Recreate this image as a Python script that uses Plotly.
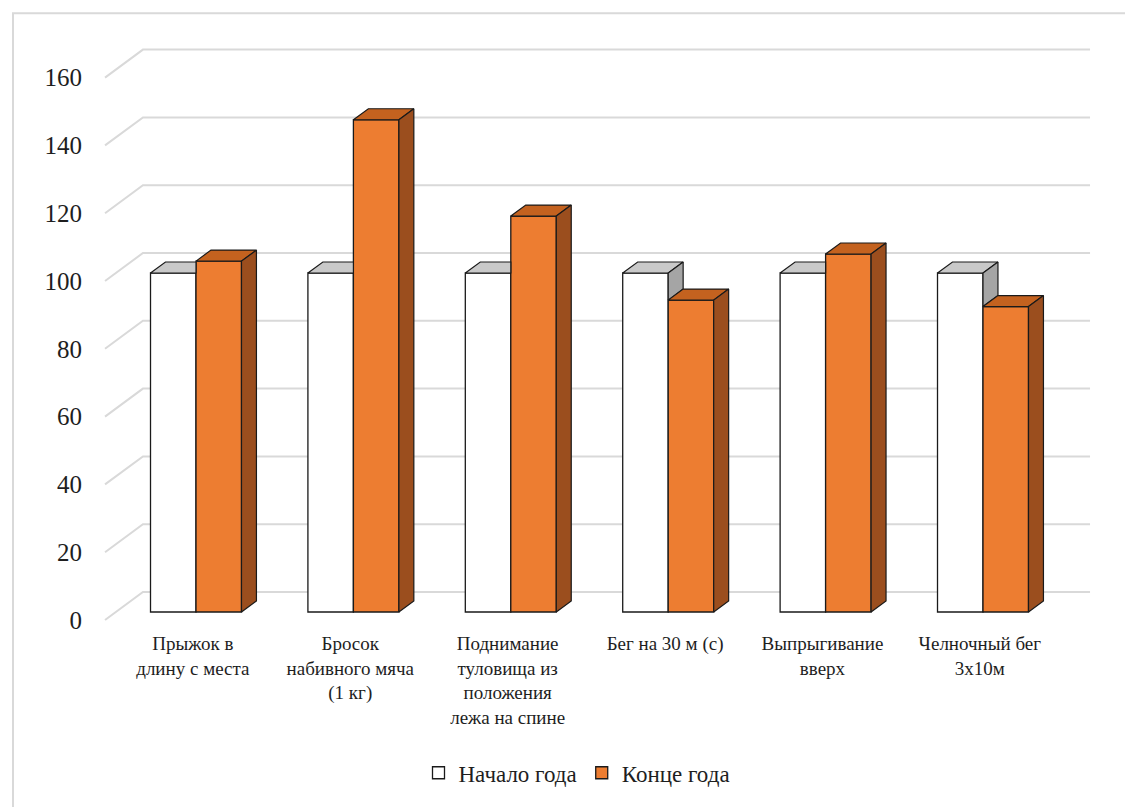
import plotly.graph_objects as go

# ---- data ----
categories = [
    "Прыжок в<br>длину с места",
    "Бросок<br>набивного мяча<br>(1 кг)",
    "Поднимание<br>туловища из<br>положения<br>лежа на спине",
    "Бег на 30 м (с)",
    "Выпрыгивание<br>вверх",
    "Челночный бег<br>3х10м",
]
series_names = ["Начало года", "Конце года"]
start_values = [100, 100, 100, 100, 100, 100]
end_values = [103.5, 145.2, 116.8, 92.0, 105.6, 90.1]
y_ticks = [0, 20, 40, 60, 80, 100, 120, 140, 160]

# ---- style / geometry parameters ----
FONT = "'Liberation Serif', 'Times New Roman', 'DejaVu Serif', serif"
WHITE_FRONT, WHITE_TOP, WHITE_SIDE = "#ffffff", "#c9c9c9", "#a5a5a5"
ORANGE_FRONT, ORANGE_TOP, ORANGE_SIDE = "#ED7D31", "#C4621F", "#9B4E1E"
EDGE = "#1a1a1a"
GRID = "#d9d9d9"
TXT = "#1e1e1e"

BAR_W = 0.289          # width of each bar (category units)
DDX, DDY = 0.095, 3.25  # bar depth offset (x units, value units)
WALL_FRONT_DX, WALL_FRONT_DY = -0.578, -2.36   # front plane of side wall
WALL_BACK_X0, WALL_BACK_X1, WALL_BACK_DY = -0.337, 5.68, 5.9

xpos = list(range(len(categories)))

fig = go.Figure()

# front faces
fig.add_trace(go.Bar(
    x=[i - BAR_W / 2 for i in xpos], y=start_values, width=BAR_W, name=series_names[0],
    marker=dict(color=WHITE_FRONT, line=dict(color=EDGE, width=1.3)), hoverinfo="skip"))
fig.add_trace(go.Bar(
    x=[i + BAR_W / 2 for i in xpos], y=end_values, width=BAR_W, name=series_names[1],
    marker=dict(color=ORANGE_FRONT, line=dict(color=EDGE, width=1.3)), hoverinfo="skip"))


def poly_trace(polys, color):
    xs, ys = [], []
    for p in polys:
        for (a, b) in p + [p[0]]:
            xs.append(a)
            ys.append(b)
        xs.append(None)
        ys.append(None)
    return go.Scatter(x=xs, y=ys, mode="lines", fill="toself", fillcolor=color,
                      line=dict(color=EDGE, width=1.2), showlegend=False, hoverinfo="skip")


w_top, w_side, o_top, o_side = [], [], [], []
for i, vw, vo in zip(xpos, start_values, end_values):
    x0w, x1w = i - BAR_W, i
    x0o, x1o = i, i + BAR_W
    if vo - vw >= DDY:
        w_top.append([(x0w, vw), (x1w, vw), (x1w, vw + DDY), (x0w + DDX, vw + DDY)])
    elif vo > vw:
        c = vo - vw
        w_top.append([(x0w, vw), (x1w, vw), (x1w, vw + c), (x1w + DDX * c / DDY, vw + c),
                      (x1w + DDX, vw + DDY), (x0w + DDX, vw + DDY)])
    else:
        w_top.append([(x0w, vw), (x1w, vw), (x1w + DDX, vw + DDY), (x0w + DDX, vw + DDY)])
        w_side.append([(x1w, vo), (x1w, vw), (x1w + DDX, vw + DDY), (x1w + DDX, vo + DDY)])
    o_top.append([(x0o, vo), (x1o, vo), (x1o + DDX, vo + DDY), (x0o + DDX, vo + DDY)])
    o_side.append([(x1o, 0), (x1o, vo), (x1o + DDX, vo + DDY), (x1o + DDX, DDY)])

fig.add_trace(poly_trace(w_top, WHITE_TOP))
if w_side:
    fig.add_trace(poly_trace(w_side, WHITE_SIDE))
fig.add_trace(poly_trace(o_top, ORANGE_TOP))
fig.add_trace(poly_trace(o_side, ORANGE_SIDE))

# back-wall gridlines (with side-wall diagonals)
shapes = []
for t in y_ticks:
    shapes.append(dict(
        type="path", xref="x", yref="y", layer="below",
        path=f"M {WALL_FRONT_DX},{t + WALL_FRONT_DY} L {WALL_BACK_X0},{t + WALL_BACK_DY} "
             f"L {WALL_BACK_X1},{t + WALL_BACK_DY}",
        line=dict(color=GRID, width=2)))
# chart border
shapes.append(dict(type="rect", xref="paper", yref="paper", x0=-0.087, x1=1.04,
                   y0=-0.32, y1=1.028, line=dict(color=GRID, width=2), layer="below"))

fig.update_layout(
    width=1125, height=807,
    margin=dict(l=100, r=25, t=30, b=177),
    paper_bgcolor="white", plot_bgcolor="white",
    barmode="overlay",
    font=dict(family=FONT, color=TXT),
    shapes=shapes,
    showlegend=True,
    legend=dict(orientation="h", x=0.477, xanchor="center", y=-0.238, yanchor="middle",
                font=dict(family=FONT, size=23, color=TXT), traceorder="normal",
                itemwidth=30),
    xaxis=dict(range=[-0.6099, 5.7433], showgrid=False, zeroline=False, showline=False,
               tickmode="array", tickvals=[i - 0.02 for i in xpos], ticktext=categories,
               tickfont=dict(family=FONT, size=19, color=TXT), ticks=""),
    yaxis=dict(range=[-5.31, 171.68], showgrid=False, zeroline=False, showline=False,
               tickmode="array", tickvals=[t + WALL_FRONT_DY for t in y_ticks],
               ticktext=[str(t) for t in y_ticks], ticks="",
               tickfont=dict(family=FONT, size=25, color=TXT),
               ticklabelstandoff=17),
)

fig.write_html("out.html")
